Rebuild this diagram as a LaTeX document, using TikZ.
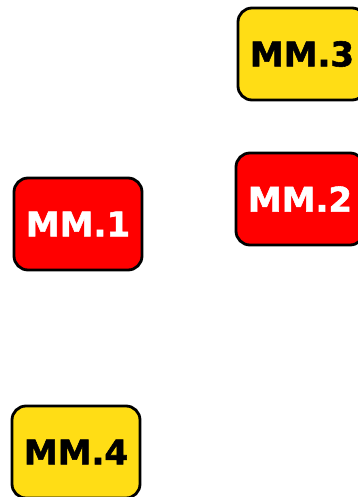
\documentclass[tikz,border=0pt]{standalone}
\usepackage{fontspec}
\setsansfont{DejaVu Sans}[BoldFeatures={FakeBold=1.6}]
\usetikzlibrary{positioning}
\definecolor{mmred}{HTML}{FF0000}
\definecolor{mmyellow}{HTML}{FFDD15}

\begin{document}
\begin{tikzpicture}[
  x=1pt, y=-1pt,
  font=\sffamily\bfseries\fontsize{34}{34}\selectfont,
  box/.style={draw=black, line width=2.8pt, rounded corners=14pt,
              minimum width=128pt, minimum height=92pt, inner sep=0pt, anchor=center},
  redbox/.style={box, fill=mmred, text=white},
  yellowbox/.style={box, fill=mmyellow, text=black},
]
\useasboundingbox (0,0) rectangle (358,497);
% Boxes
\node[yellowbox] (mm3) at (302,54) {MM.3};
\node[redbox] (mm2) at (300,199) {MM.2};
\node[redbox] (mm1) at (78,224) {MM.1};
\node[yellowbox] (mm4) at (76,452) {MM.4};
\end{tikzpicture}
\end{document}
